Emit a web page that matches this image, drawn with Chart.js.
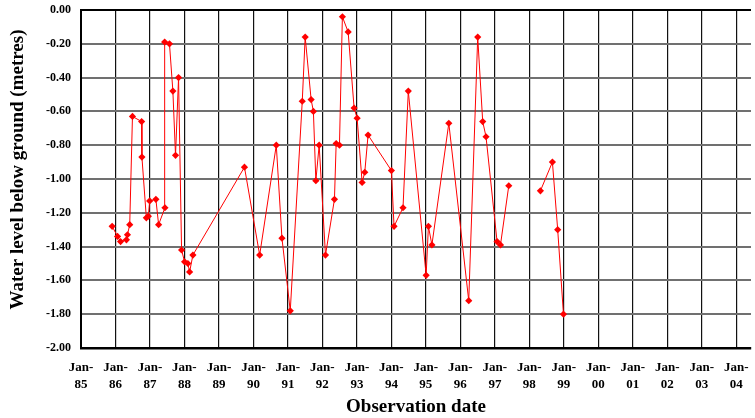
<!DOCTYPE html>
<html>
<head>
<meta charset="utf-8">
<script src="https://cdn.jsdelivr.net/npm/chart.js@4/dist/chart.umd.min.js"></script>
<style>
  html, body { margin: 0; padding: 0; background: #fff; }
  #wrap { width: 755px; height: 418px; }
</style>
</head>
<body>
<div id="wrap"><canvas id="chart"></canvas></div>
<script>
"use strict";

// observation dates and water level below ground (m); null = break in the record
const obsDates = [
    "1985-11-27", "1986-01-23", "1986-02-24", "1986-04-27", "1986-05-08", "1986-06-01",
    "1986-06-30", "1986-10-05", "1986-10-08", "1986-11-24", "1986-12-15", "1986-12-29",
    "1987-03-05", "1987-04-03", "1987-06-09", "1987-06-06", "1987-07-27", "1987-09-01",
    "1987-09-29", "1987-10-31", "1987-12-02", "1988-01-03", "1988-02-07", "1988-02-25",
    "1988-03-31", "1989-09-28", "1990-03-08", "1990-08-31", "1990-10-30", "1991-01-26",
    "1991-06-02", "1991-07-03", "1991-09-04", "1991-09-28", "1991-10-24", "1991-11-28",
    "1992-02-03", "1992-05-08", "1992-05-26", "1992-06-30", "1992-07-31", "1992-09-30",
    "1992-12-02", "1993-01-03", "1993-02-25", "1993-03-25", "1993-04-29", "1994-01-01",
    "1994-01-29", "1994-05-04", "1994-06-29", "1995-01-04", "1995-01-28", "1995-03-06",
    "1995-09-01", "1996-03-30", "1996-07-03", "1996-08-25", "1996-09-29", "1997-01-24",
    "1997-03-01", "1997-05-28", "1997-11-01", "1998-04-28", "1998-09-02", "1998-10-28",
    "1998-12-28"
];
const waterLevels = [
    -1.28, -1.34, -1.37, -1.36, -1.33, -1.27,
    -0.63, -0.66, -0.87, -1.23, -1.22, -1.13,
    -1.12, -1.27, -1.17, -0.19, -0.20, -0.48,
    -0.86, -0.40, -1.42, -1.49, -1.50, -1.55,
    -1.45, -0.93, -1.45, -0.80, -1.35, -1.78,
    -0.54, -0.16, -0.53, -0.60, -1.01, -0.80,
    -1.45, -1.12, -0.79, -0.80, -0.04, -0.13,
    -0.58, -0.64, -1.02, -0.96, -0.74, -0.95,
    -1.28, -1.17, -0.48, -1.57, -1.28, -1.39,
    -0.67, -1.72, -0.16, -0.66, -0.75, -1.37,
    -1.39, -1.04, null, -1.07, -0.90, -1.30,
    -1.80
];

const tickYears = [1985, 1986, 1987, 1988, 1989, 1990, 1991, 1992, 1993, 1994,
                   1995, 1996, 1997, 1998, 1999, 2000, 2001, 2002, 2003, 2004];
const xTickLabels = ["Jan-85", "Jan-86", "Jan-87", "Jan-88", "Jan-89", "Jan-90", "Jan-91",
                     "Jan-92", "Jan-93", "Jan-94", "Jan-95", "Jan-96", "Jan-97", "Jan-98",
                     "Jan-99", "Jan-00", "Jan-01", "Jan-02", "Jan-03", "Jan-04"];
const yTicks = [0, -0.2, -0.4, -0.6, -0.8, -1.0, -1.2, -1.4, -1.6, -1.8, -2.0];

const serif = "'Liberation Serif', 'Times New Roman', serif";

let points = [];
for (let i = 0; i < obsDates.length; i++) {
    points.push({ x: Date.parse(obsDates[i]), y: waterLevels[i] });
}

const ctx = document.getElementById("chart").getContext("2d");
const chart = new Chart(ctx, {
    type: "line",
    data: {
        datasets: [{
            label: "Water level",
            data: points,
            borderColor: "#ff0000",
            backgroundColor: "#ff0000",
            borderWidth: 1,
            pointStyle: "rectRot",
            pointRadius: 3.6,
            pointBorderWidth: 0,
            pointHoverRadius: 4,
            spanGaps: false,
            tension: 0
        }]
    },
    options: {
        responsive: true,
        maintainAspectRatio: false,
        animation: false,
        layout: { padding: { top: 10, right: 0, bottom: 0, left: 0 } },
        plugins: {
            legend: { display: false },
            tooltip: { enabled: false }
        },
        scales: {
            x: {
                type: "linear",
                min: Date.UTC(1985, 0, 1),
                max: Date.UTC(2004, 5, 5),
                afterBuildTicks: function (scale) {
                    scale.ticks = tickYears.map(y => ({ value: Date.UTC(y, 0, 1) }));
                },
                afterFit: function (scale) {
                    scale.height = 70;
                    scale.paddingLeft = 0;
                    scale.paddingRight = 0;
                },
                ticks: {
                    autoSkip: false,
                    maxRotation: 0,
                    padding: 11,
                    color: "#000",
                    font: { family: serif, size: 13, weight: "bold", lineHeight: 1.3 },
                    callback: function (value, index) {
                        let s = xTickLabels[index];
                        return [s.slice(0, 4), s.slice(4)];
                    }
                },
                grid: {
                    color: "#111",
                    lineWidth: 1.2,
                    drawTicks: false
                },
                border: { display: true, color: "#000", width: 2.5 },
                title: {
                    display: true,
                    text: "Observation date",
                    color: "#000",
                    font: { family: serif, size: 19, weight: "bold" },
                    padding: { top: 0, bottom: 0 }
                }
            },
            y: {
                min: -2,
                max: 0,
                afterBuildTicks: function (scale) {
                    scale.ticks = yTicks.map(v => ({ value: v }));
                },
                afterFit: function (scale) {
                    scale.width = 81;
                    scale.paddingTop = 0;
                    scale.paddingBottom = 0;
                },
                ticks: {
                    padding: 10,
                    color: "#000",
                    font: { family: serif, size: 12, weight: "bold" },
                    callback: function (value) {
                        return Number(value).toFixed(2);
                    }
                },
                grid: {
                    color: function (c) {
                        return c.tick && c.tick.value === 0 ? "#000" : "#707070";
                    },
                    lineWidth: 2,
                    drawTicks: false
                },
                border: { display: true, color: "#000", width: 2 },
                title: {
                    display: true,
                    text: "\u00a0\u00a0\u00a0\u00a0Water level below ground (metres)",
                    color: "#000",
                    font: { family: serif, size: 19, weight: "bold" },
                    padding: { top: 7, bottom: 0 }
                }
            }
        }
    }
});
</script>
</body>
</html>
